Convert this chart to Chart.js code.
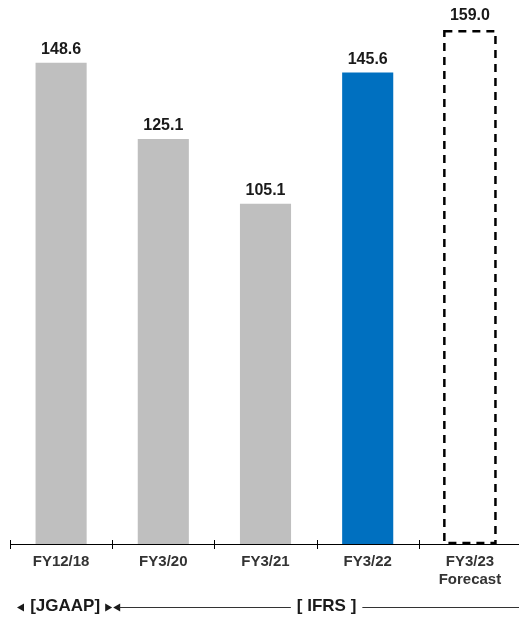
<!DOCTYPE html>
<html>
<head>
<meta charset="utf-8">
<script src="https://cdn.jsdelivr.net/npm/chart.js@4.4.1/dist/chart.umd.min.js"></script>
<style>
  html, body { margin: 0; padding: 0; background: #fff; overflow: hidden; }
  #wrap { position: relative; width: 519px; height: 619px; overflow: hidden; }
</style>
</head>
<body>
<div id="wrap"><canvas id="c" width="521" height="619"></canvas></div>
<script>
// Fiscal years shown on the category axis (multi-line labels as arrays)
const categories = [['FY12/18'], ['FY3/20'], ['FY3/21'], ['FY3/22'], ['FY3/23', 'Forecast']];
// Values per fiscal year
const values = [148.6, 125.1, 105.1, 145.6, 159.0];
// Value labels printed above the bars
const valueLabels = ['148.6', '125.1', '105.1', '145.6', '159.0'];
// Which bars are forecasts (drawn as dashed outlines)
const isForecast = [false, false, false, false, true];
// Accounting standard bands beneath the axis
const standards = ['[JGAAP]', '[ IFRS ]'];

const GRAY = '#BFBFBF';
const BLUE = '#0070C0';
const INK = '#1a1a1a';
const FONT = '"Liberation Sans", Arial, sans-serif';

const barColors = values.map((v, i) => isForecast[i] ? 'rgba(0,0,0,0)' : (i === 3 ? BLUE : GRAY));

// Axis line with small ticks crossing it at category boundaries
const axisPlugin = {
  id: 'axisDecor',
  afterDatasetsDraw(chart) {
    const { ctx, chartArea } = chart;
    const x = chart.scales.x;
    const y0 = chartArea.bottom;
    ctx.save();
    ctx.strokeStyle = '#000';
    ctx.lineWidth = 1;
    ctx.beginPath();
    ctx.moveTo(x.left, y0 + 0.5);
    ctx.lineTo(chart.width, y0 + 0.5);
    ctx.stroke();
    const step = x.getPixelForValue(1) - x.getPixelForValue(0);
    for (let i = 0; i <= categories.length; i++) {
      const px = Math.round(x.getPixelForValue(i) - step / 2) + 0.5;
      ctx.beginPath();
      ctx.moveTo(px, y0 - 4);
      ctx.lineTo(px, y0 + 5);
      ctx.stroke();
    }
    ctx.restore();
  }
};

// Dashed outline for forecast bars and value labels above every bar
const barDecor = {
  id: 'barDecor',
  afterDatasetsDraw(chart) {
    const { ctx } = chart;
    const meta = chart.getDatasetMeta(0);
    ctx.save();
    meta.data.forEach((bar, i) => {
      const p = bar.getProps(['x', 'y', 'base', 'width'], true);
      if (isForecast[i]) {
        ctx.strokeStyle = '#000';
        ctx.lineWidth = 2.5;
        ctx.setLineDash([8, 6]);
        ctx.strokeRect(p.x - p.width / 2, p.y + 2, p.width, p.base - p.y - 3);
        ctx.setLineDash([]);
      }
      ctx.fillStyle = INK;
      ctx.font = 'bold 16px ' + FONT;
      ctx.textAlign = 'center';
      ctx.textBaseline = 'alphabetic';
      ctx.fillText(valueLabels[i], p.x, p.y - 9);
    });
    ctx.restore();
  }
};

// Accounting standard arrows below the category labels
const standardsPlugin = {
  id: 'standards',
  afterDraw(chart) {
    const { ctx } = chart;
    const x = chart.scales.x;
    const step = x.getPixelForValue(1) - x.getPixelForValue(0);
    const b0 = x.getPixelForValue(0) - step / 2;
    const b1 = x.getPixelForValue(1) - step / 2;
    const yy = 606;
    const ly = 607.5;
    ctx.save();
    ctx.fillStyle = INK;
    ctx.strokeStyle = '#333';
    ctx.lineWidth = 1;
    ctx.font = 'bold 17px ' + FONT;
    ctx.textBaseline = 'middle';
    ctx.textAlign = 'center';
    const tri = (tx, dir) => {
      ctx.beginPath();
      ctx.moveTo(tx, ly);
      ctx.lineTo(tx + 7 * dir, ly - 4);
      ctx.lineTo(tx + 7 * dir, ly + 4);
      ctx.closePath();
      ctx.fill();
    };
    // JGAAP band
    const jMid = (b0 + b1) / 2 + 4;
    ctx.fillText(standards[0], jMid, yy);
    tri(b0 + 7, 1);
    tri(b1, -1);
    // IFRS band
    tri(b1 + 1, 1);
    const iMid = x.getPixelForValue(2) + step / 2 + 10;
    ctx.fillText(standards[1], iMid, yy);
    const half = ctx.measureText(standards[1]).width / 2;
    ctx.beginPath();
    ctx.moveTo(b1 + 7, ly);
    ctx.lineTo(iMid - half - 6, ly);
    ctx.moveTo(iMid + half + 6, ly);
    ctx.lineTo(chart.width, ly);
    ctx.stroke();
    ctx.restore();
  }
};

new Chart(document.getElementById('c'), {
  type: 'bar',
  data: {
    labels: categories,
    datasets: [{
      data: values,
      backgroundColor: barColors,
      borderWidth: 0,
      barPercentage: 0.5,
      categoryPercentage: 1.0
    }]
  },
  options: {
    responsive: false,
    animation: false,
    devicePixelRatio: 1,
    layout: { padding: { left: 10, right: 0, top: 0, bottom: 0 } },
    plugins: { legend: { display: false }, tooltip: { enabled: false } },
    scales: {
      x: {
        grid: { display: false, drawTicks: false },
        border: { display: false },
        ticks: {
          color: '#333333',
          font: { family: FONT, size: 15, weight: 'bold' },
          padding: 9,
          maxRotation: 0,
          autoSkip: false
        },
        afterFit(scale) { scale.height = 75; }
      },
      y: {
        display: false,
        min: 0,
        max: 168
      }
    }
  },
  plugins: [axisPlugin, barDecor, standardsPlugin]
});
</script>
</body>
</html>
